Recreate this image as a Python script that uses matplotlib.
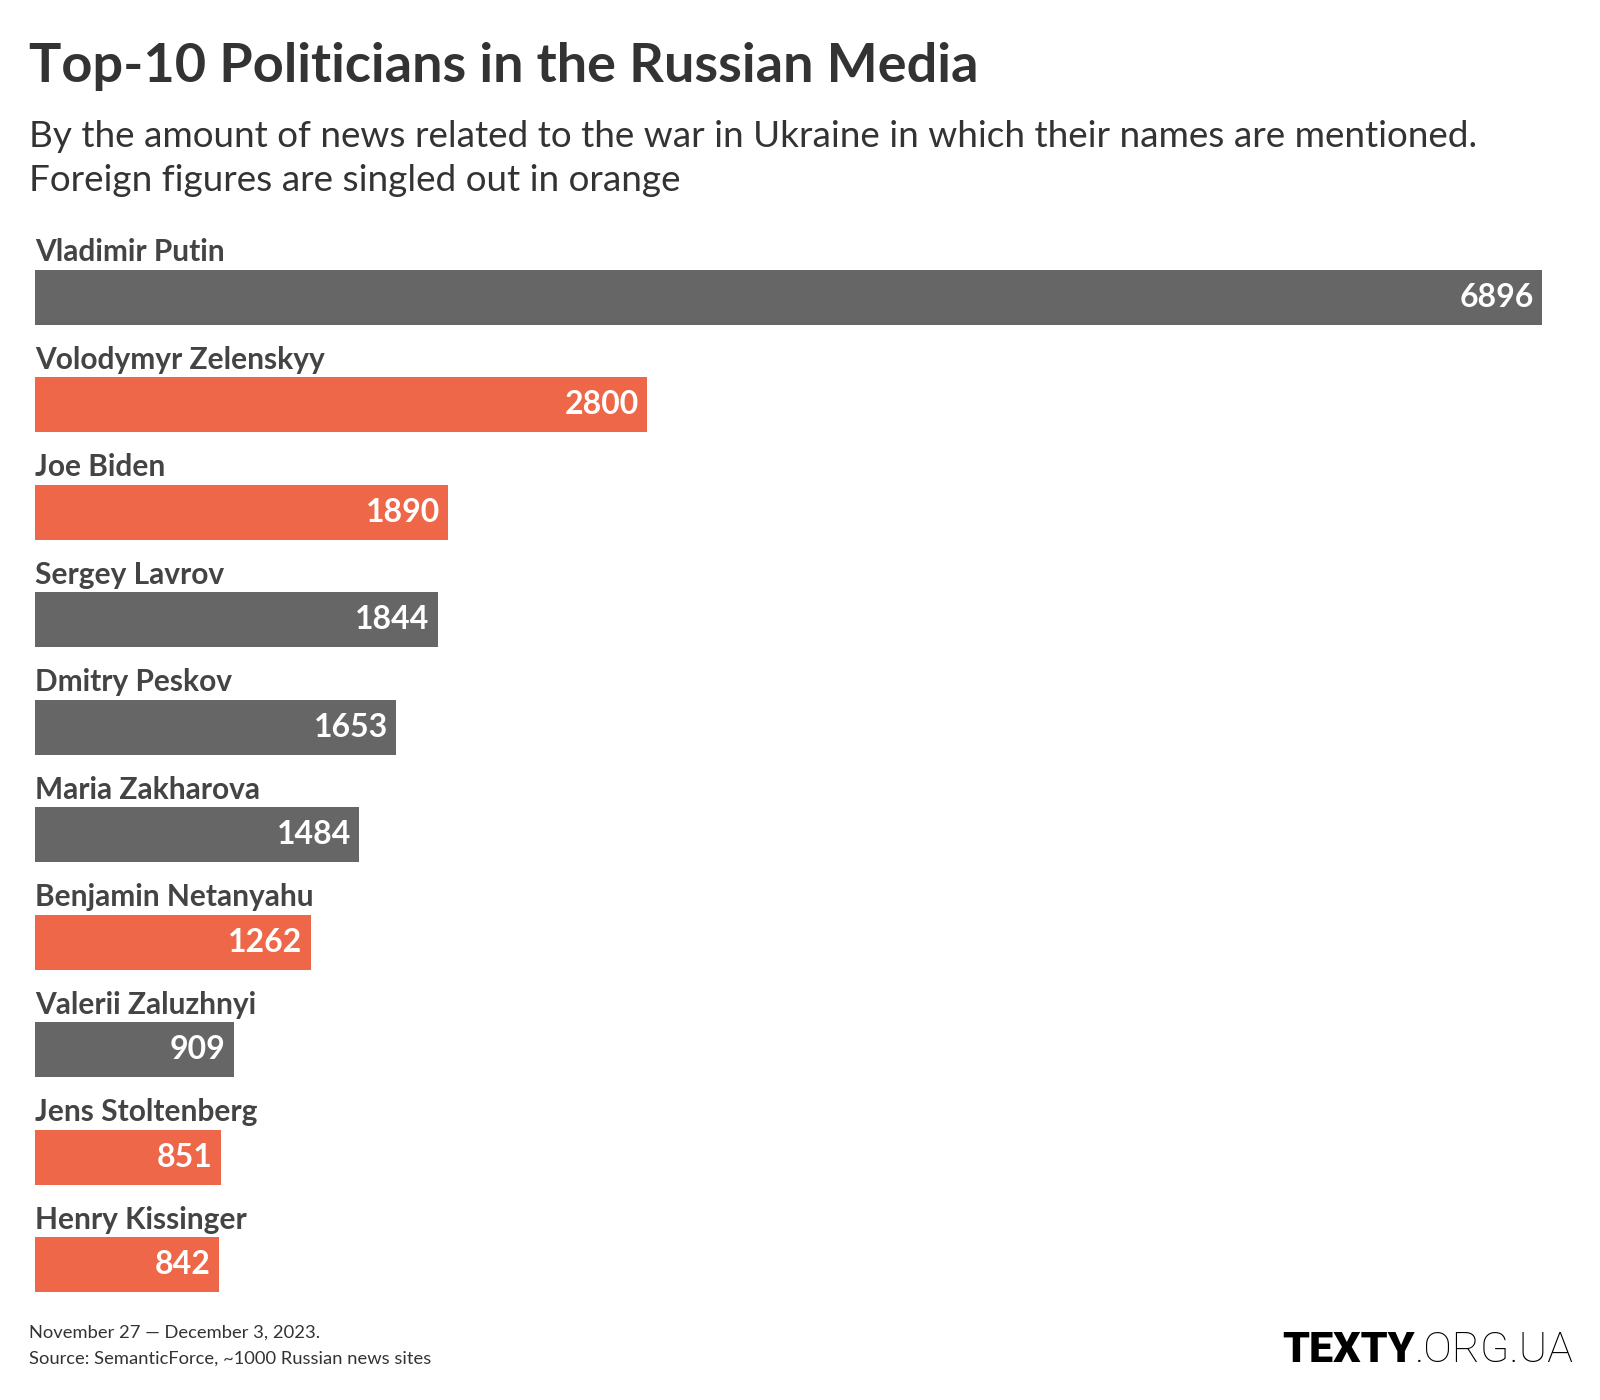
import matplotlib
matplotlib.use("Agg")
import matplotlib.pyplot as plt

names = ["Vladimir Putin", "Volodymyr Zelenskyy", "Joe Biden", "Sergey Lavrov",
         "Dmitry Peskov", "Maria Zakharova", "Benjamin Netanyahu",
         "Valerii Zaluzhnyi", "Jens Stoltenberg", "Henry Kissinger"]
mentions = [6896, 2800, 1890, 1844, 1653, 1484, 1262, 909, 851, 842]
foreign = [False, True, True, False, False, False, True, False, True, True]

GRAY = "#666666"
ORANGE = "#ed6748"
W, H = 1600, 1400

plt.rcParams['font.family'] = ['Lato', 'DejaVu Sans']

fig = plt.figure(figsize=(16, 14), dpi=100)
fig.patch.set_facecolor("white")

def fy(px):
    return 1 - px / H

# bars area: row i centre at 297 + 107.5*i px from top
row = 107.5
top_px = 297 - row
bot_px = 297 + 9 * row + 0.5 * row
ax = fig.add_axes([35 / W, fy(bot_px), (1542 - 35) / W, (bot_px - top_px) / H])
ax.set_xlim(0, max(mentions))
ax.set_ylim(9.5, -1)
ax.axis("off")

bh = 55 / row
for i, (n, v, f) in enumerate(zip(names, mentions, foreign)):
    c = ORANGE if f else GRAY
    ax.barh(i, v, height=bh, color=c, linewidth=0)
    ax.text(0, i - bh / 2 - 0.075, n, ha="left", va="baseline",
            fontsize=21.5, fontweight="bold", color="#444444", clip_on=False)
    ax.annotate(str(v), xy=(v, i), xytext=(-6, 0), textcoords="offset points",
                ha="right", va="center", fontsize=23, fontweight="bold",
                color="white")

fig.text(29 / W, fy(82), "Top-10 Politicians in the Russian Media",
         fontsize=39, fontweight="bold", color="#333333", va="baseline")
fig.text(29 / W, fy(147),
         "By the amount of news related to the war in Ukraine in which their names are mentioned.",
         fontsize=26.6, color="#333333", va="baseline")
fig.text(29 / W, fy(191), "Foreign figures are singled out in orange",
         fontsize=26.6, color="#333333", va="baseline")

fig.text(29 / W, fy(1338), "November 27 \u2014 December 3, 2023.",
         fontsize=13.2, color="#333333", va="baseline")
fig.text(29 / W, fy(1364), "Source: SemanticForce, ~1000 Russian news sites",
         fontsize=13.2, color="#333333", va="baseline")

t1 = fig.text(1282 / W, fy(1362), "TEXTY", fontsize=31, fontweight="heavy",
              color="black", va="baseline", family=["Roboto", "DejaVu Sans"])
fig.canvas.draw()
bb = t1.get_window_extent()
fig.text(bb.x1 / W, fy(1362), ".ORG.UA", fontsize=31, fontweight="light",
         color="black", va="baseline", family=["Roboto", "DejaVu Sans"])

fig.savefig("out.png", dpi=100, facecolor="white")
